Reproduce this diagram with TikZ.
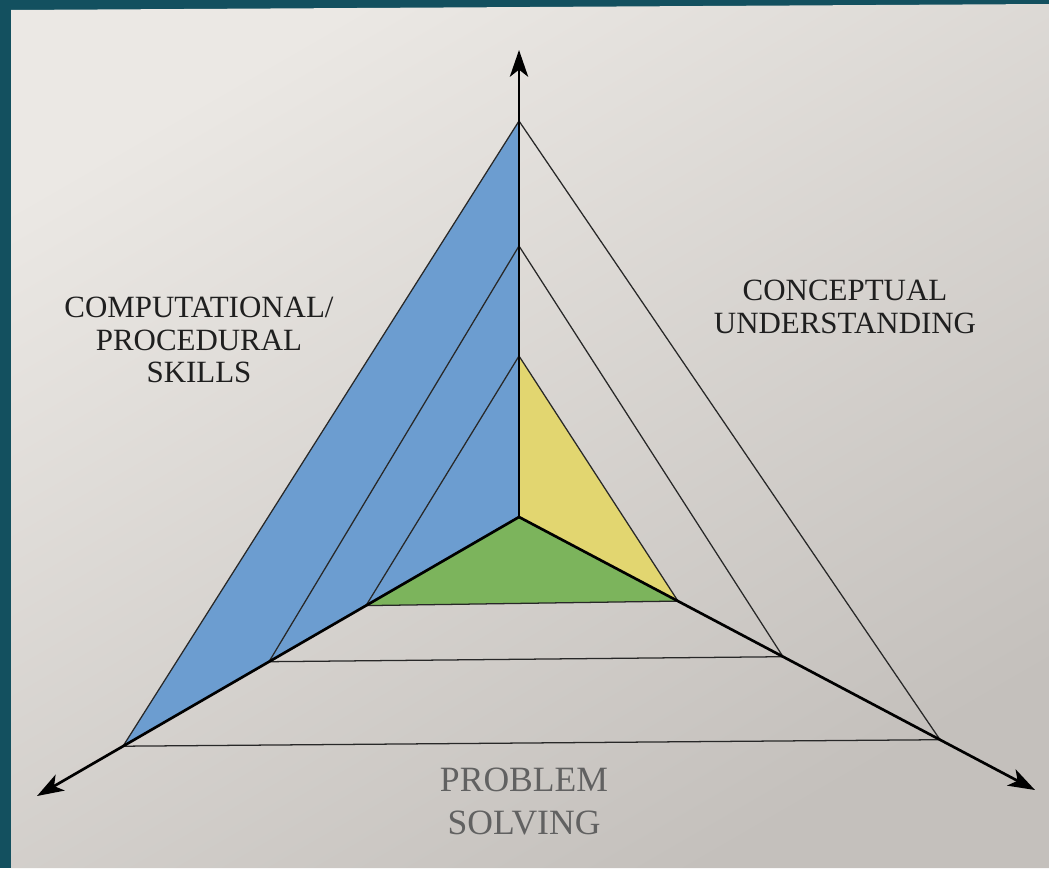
\documentclass[tikz,border=0pt]{standalone}
\usepackage{fontspec}
\setmainfont{Liberation Serif}
\usetikzlibrary{arrows.meta}

\definecolor{frameteal}{RGB}{19,80,95}
\definecolor{paperA}{RGB}{235,232,228}
\definecolor{paperB}{RGB}{226,223,219}
\definecolor{paperC}{RGB}{196,192,188}
\definecolor{skillblue}{RGB}{108,157,208}
\definecolor{conceptyellow}{RGB}{226,214,112}
\definecolor{solvegreen}{RGB}{124,180,92}
\definecolor{inkgray}{RGB}{40,40,40}

\tikzset{
	edge/.style={draw=inkgray,line width=0.9pt},
	axis/.style={draw=black,line width=1.9pt,-{Stealth[length=19pt,width=13pt,inset=5pt]}},
	cornertext/.style={align=center,text=black!88,font={\fontsize{22}{23}\selectfont}},
	basetext/.style={align=center,text=black!62,font={\fontsize{25.3}{30.6}\selectfont}}
}

\begin{document}
\begin{tikzpicture}[x=0.025cm,y=0.025cm]
		\useasboundingbox (0,0) rectangle (1049,-868);
		\fill[frameteal] (0,0) rectangle (1049,-868);
		\shade[top color=paperA,middle color=paperB,bottom color=paperC,shading angle=30]
			(11,-10) -- (1049,-4) -- (1049,-868) -- (11,-868) -- cycle;
		
		\coordinate (Centre) at (519,-517);
		\coordinate (Top1) at (519,-356);
		\coordinate (Top2) at (519,-246);
		\coordinate (Top3) at (519,-121);
		\coordinate (Left1) at (366,-605.6);
		\coordinate (Left2) at (269,-661.7);
		\coordinate (Left3) at (123,-746.2);
		\coordinate (Right1) at (678,-601.1);
		\coordinate (Right2) at (783,-656.7);
		\coordinate (Right3) at (940,-739.7);
		\coordinate (TipUp) at (519,-50);
		\coordinate (TipLeft) at (37,-796);
		\coordinate (TipRight) at (1035,-790);
		
		\fill[skillblue] (Top3) -- (Centre) -- (Left3) -- cycle;
		\fill[conceptyellow] (Top1) -- (Centre) -- (Right1) -- cycle;
		\fill[solvegreen] (Centre) -- (Left1) -- (Right1) -- cycle;
		
		\foreach \i in {1,2,3}{
			\draw[edge] (Left\i) -- (Top\i) -- (Right\i) -- (Left\i);
		}
		
		\draw[axis] (Centre) -- (TipUp);
		\draw[axis] (Centre) -- (TipLeft);
		\draw[axis] (Centre) -- (TipRight);
		
		\node[cornertext] (Computational) at (199,-340) {COMPUTATIONAL/\\PROCEDURAL\\SKILLS};
		\node[cornertext] (Conceptual) at (845,-307) {CONCEPTUAL\\UNDERSTANDING};
		\node[basetext] (Problem) at (524,-801) {PROBLEM\\SOLVING};
	\end{tikzpicture}
\end{document}
